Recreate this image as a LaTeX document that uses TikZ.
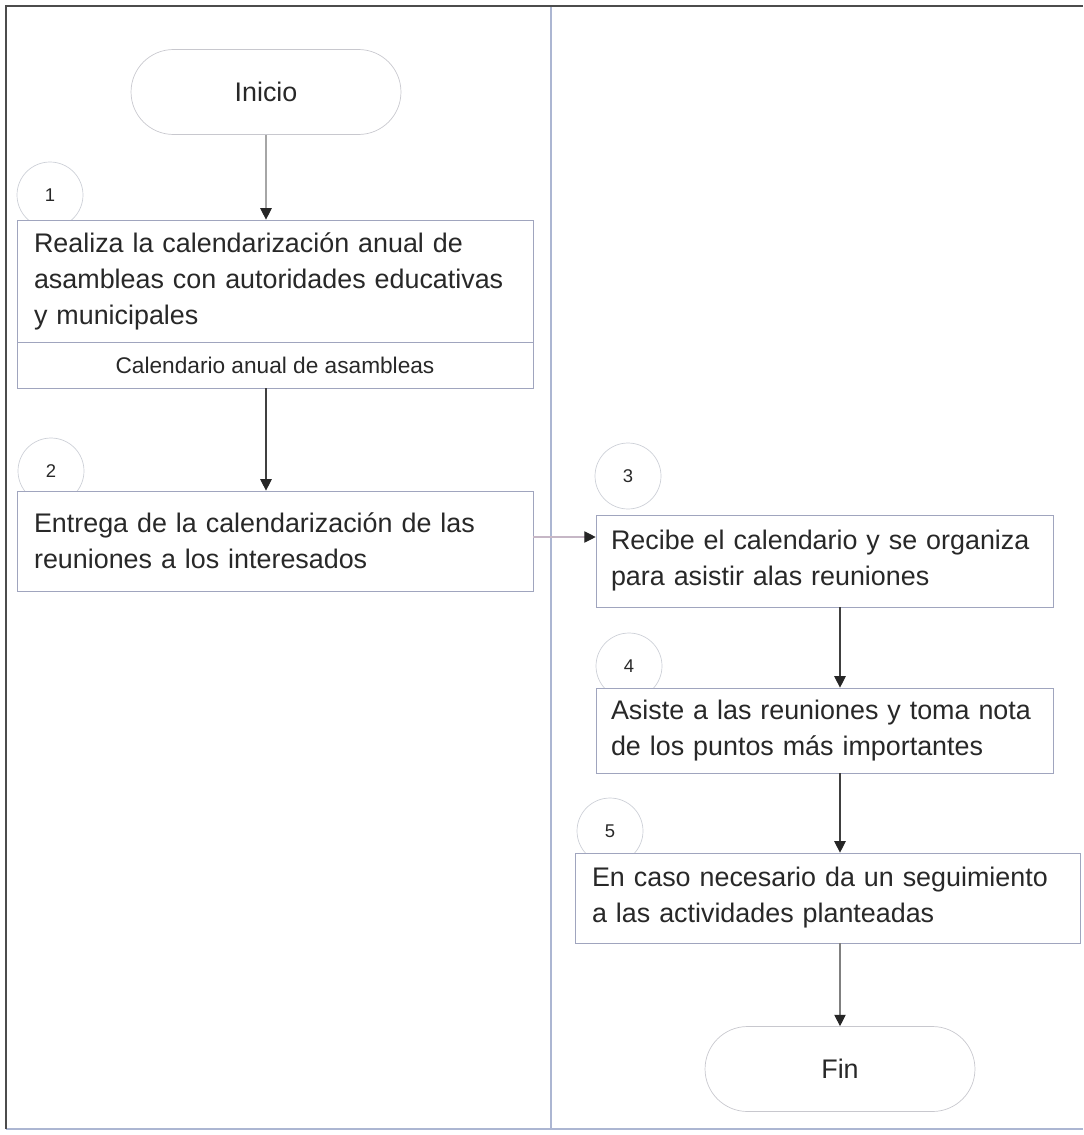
\documentclass[tikz,border=0pt]{standalone}
\usepackage{fontspec}
\setmainfont{Liberation Sans}
\usetikzlibrary{arrows.meta}

\definecolor{boxline}{RGB}{160,165,190}
\definecolor{circline}{RGB}{205,208,215}
\definecolor{termline}{RGB}{200,200,206}
\definecolor{laneline}{RGB}{172,182,210}
\definecolor{textgray}{RGB}{40,40,40}

\tikzset{
    paso/.style={rectangle, draw=boxline, fill=white, inner xsep=0.34cm, inner ysep=0.1cm,
        align=left, text=textgray, font=\fontsize{15.3}{20.5}\selectfont},
    terminal/.style={rectangle, rounded corners=0.85cm, draw=termline, minimum width=5.4cm,
        minimum height=1.7cm, text=textgray, font=\fontsize{15.3}{20.5}\selectfont},
    num/.style={circle, draw=circline, minimum size=1.32cm, inner sep=0pt,
        text=textgray, font=\fontsize{10.5}{12}\selectfont},
    flow/.style={draw=black!75, line width=0.6pt, -{Triangle[length=6.5pt,width=6.5pt,color=black!85]}},
    flowlight/.style={flow, draw=black!35}
}

\begin{document}
\begin{tikzpicture}[x=0.02cm, y=-0.02cm]
    \useasboundingbox (0,0) rectangle (1083,1135);

    % frame and lanes
    \draw[laneline, line width=0.6pt] (6,1129) -- (1083,1129);
    \draw[laneline, line width=0.6pt] (551,6) -- (551,1129);
    \draw[black!70, line width=1.1pt] (6,1129) -- (6,6) -- (1083,6);

    % step numbers (drawn first, boxes cover them)
    \foreach \n/\x/\y in {1/50/195, 2/51/471, 3/628/476, 4/629/666, 5/610/831}
        \node[num] (c\n) at (\x,\y) {\n};

    \node[terminal] (inicio) at (266,92) {Inicio};

    \node[paso, text width=9.64cm, minimum height=2.44cm] (box1) at (275,281)
        {Realiza la calendarización anual de\\asambleas con autoridades educativas\\y municipales};
    \node[rectangle, draw=boxline, fill=white, minimum width=10.32cm, minimum height=0.92cm,
        text=textgray, font=\fontsize{12.9}{15}\selectfont] (sub1) at (275,365)
        {Calendario anual de asambleas};
    \node[paso, text width=9.64cm, minimum height=2.0cm] (box2) at (275,541)
        {Entrega de la calendarización de las\\reuniones a los interesados};

    \node[paso, inner xsep=0.3cm, text width=8.54cm, minimum height=1.84cm] (box3) at (824.5,561)
        {Recibe el calendario y se organiza\\para asistir alas reuniones};
    \node[paso, inner xsep=0.3cm, text width=8.54cm, minimum height=1.7cm] (box4) at (824.5,730.5)
        {Asiste a las reuniones y toma nota\\de los puntos más importantes};
    \node[paso, text width=9.42cm, minimum height=1.8cm] (box5) at (827.5,898)
        {En caso necesario da un seguimiento\\a las actividades planteadas};

    \node[terminal] (fin) at (840,1069) {Fin};

    % connectors
    \draw[flowlight] (inicio.south) -- (inicio.south |- box1.north);
    \draw[flow] (sub1.south -| inicio.south) -- (box2.north -| inicio.south);
    \draw[flowlight, draw=violet!25!gray!45] ([yshift=0.08cm]box2.east) -- ([yshift=0.08cm]box2.east -| box3.west);
    \foreach \a/\b in {box3/box4, box4/box5}
        \draw[flow] (\a.south -| fin) -- (\b.north -| fin);
    \draw[flowlight, draw=black!50] (box5.south -| fin) -- (fin.north);
\end{tikzpicture}
\end{document}
